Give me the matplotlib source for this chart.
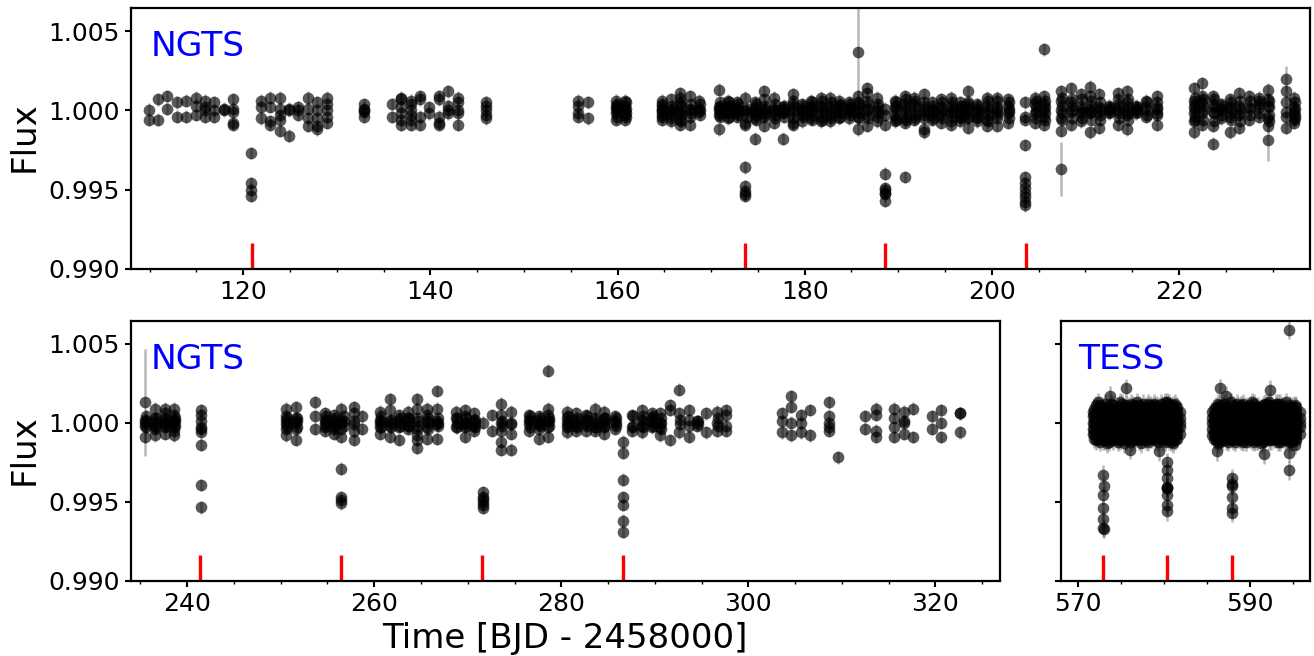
import numpy as np
import matplotlib
matplotlib.use("Agg")
import matplotlib.pyplot as plt
from matplotlib.ticker import MultipleLocator

# flux values are stored as ppt offsets from 1.0, one list per night / time column
top_times = [
    109.9, 110.9, 111.9, 112.9, 113.9, 114.9, 115.9, 116.9, 117.9, 118.9,
    120.85, 121.9, 122.9, 123.9, 124.9, 125.9, 126.9, 127.9, 128.9, 132.9,
    135.9, 136.9, 137.9, 138.9, 139.9, 140.9, 141.9, 142.9, 145.9, 155.8,
    156.8, 159.8, 160.8, 164.7, 165.7, 166.7, 167.7, 168.7, 170.8, 171.8,
    172.8, 173.65, 174.7, 175.7, 176.7, 177.7, 178.7, 179.7, 180.7, 181.7,
    182.7, 183.7, 184.7, 185.7, 186.7, 187.7, 188.6, 189.7, 190.7, 191.7,
    192.7, 193.6, 194.6, 195.6, 196.6, 197.4, 198.4, 199.5, 200.5, 201.7,
    203.5, 204.6, 205.6, 207.4, 208.5, 209.5, 210.5, 211.5, 212.5, 213.5,
    214.4, 215.4, 216.5, 217.6, 221.6, 222.5, 223.6, 224.5, 225.5, 226.4,
    227.5, 228.5, 229.5, 231.4, 232.3,
]
top_flux = [
    [0.05, -0.6], [0.7, -0.6], [0.9, 0.1], [0.5, -0.4], [0.6, -0.4],
    [0.8, 0.3, -0.3], [0.6, 0.2, 0.0, -0.4], [0.5, 0.0, -0.4], [0.0, 0.1], [0.7, 0.1, -0.1, -0.8, -0.9],
    [-2.7, -4.6, -5.0, -5.4], [0.6, 0.2, -0.5], [0.8, 0.2, -0.7, -0.9], [0.8, 0.1, -0.3, -0.6, -1.3], [0.0, 0.1, -1.6],
    [0.2, 0.0, -0.3], [0.8, 0.1, -0.5, -1.0], [0.5, 0.0, -0.5, -1.0, -1.2], [0.8, 0.4, 0.0, -0.4, -0.8], [0.4, 0.1, 0.0, -0.1, -0.4],
    [0.4, -0.4], [0.8, 0.7, 0.2, -0.2, -0.6, -0.9], [0.6, 0.4, 0.0, -0.3, -0.6, -0.9], [0.9, 0.7, -0.4, -0.9], [0.2, -0.2],
    [0.9, 0.7, -0.4, -0.8, -0.9], [1.2, 0.3, 0.0, -0.2], [0.8, 0.5, 0.0, -0.2, -0.9], [0.5, 0.3, 0.0, -0.3, -0.5], [0.6, 0.3, -0.2, -0.4],
    [0.5, -0.5], [0.6, 0.3, 0.1, -0.2, -0.6], [0.6, 0.3, 0.0, -0.3, -0.6], [0.6, 0.3, 0.0, -0.3, -0.6], [0.7, 0.0, -0.1, -0.5, -0.7],
    [1.1, 0.8, 0.4, -0.2, -0.6, -0.9], [0.9, 0.1, -0.4, -0.9], [0.6, 0.1, -0.1], [1.3, 0.2, 0.0, -0.3, -1.2], [0.6, 0.2, -0.1, -0.5],
    [0.5, 0.1, -0.2, -0.4], [0.8, 0.0, -0.8, -0.9, -3.6, -4.8, -5.1, -5.3, -5.4], [0.5, 0.1, -0.2, -0.5, -1.8], [1.2, 0.7, 0.0, -0.4, -1.0], [0.8, 0.1, -0.1, -0.8],
    [0.2, 0.0, -0.2, -1.8], [1.0, 0.6, 0.0, -0.8, -0.9], [0.4, 0.0, -0.3, -0.7], [0.6, 0.2, -0.1, -0.5], [0.8, 0.3, -0.2, -0.7],
    [0.8, 0.3, -0.3, -0.7], [0.6, 0.2, -0.1, -0.5], [0.5, 0.1, -0.1, -0.5], [0.9, 0.5, 0.0, -0.4, -1.2], [1.4, 1.1, 0.6, 0.0, -1.0],
    [0.8, 0.0, -0.7], [0.1, -0.3, -0.9, -4.0, -4.9, -5.0, -5.2, -5.3, -5.7], [0.6, 0.2, -0.3, -0.7], [0.9, 0.4, 0.0, -0.5, -0.8, -4.2], [0.8, 0.4, -0.1, -0.6],
    [1.0, 0.3, -0.3, -1.2, -1.4], [0.5, 0.1, -0.3, -0.6], [0.7, 0.2, -0.3, -0.8], [0.8, 0.3, -0.2, -0.7, -0.9], [0.5, 0.0, -0.4, -0.7],
    [1.2, 0.4, 0.0, -0.5, -1.1], [0.4, 0.0, -0.5, -0.7], [0.8, 0.3, -0.1, -0.6, -1.0], [0.8, 0.2, -0.3, -1.0], [0.7, 0.3, -0.2, -0.8],
    [0.5, -0.4, -0.6, -2.2, -4.2, -4.6, -4.9, -5.2, -5.5, -5.8, -6.0], [0.8, 0.4, -0.2, -0.8], [0.9, 0.4, 0.0, -0.4, -0.9, 3.84], [1.2, 0.6, 0.0, -0.5, -1.3], [1.4, 0.5, -0.1, -0.9],
    [1.0, 0.3, -0.2, -0.7], [1.5, 0.9, 0.0, -0.2, -1.4], [1.0, 0.2, -0.1, -1.1], [0.3, 0.0, -0.2], [1.1, 0.7, 0.0, -0.9],
    [1.2, 0.5, 0.0, -0.3, -1.2], [0.3, 0.0, -0.2], [0.6, 0.2, -0.4], [0.9, 0.1, -0.2, -0.9], [1.4, 0.6, 0.2, -0.2, -0.7, -1.4],
    [1.7, 0.9, 0.5, -0.2, -0.9], [0.9, 0.4, -0.1, -1.0, -2.1], [0.4, 0.0, -0.5], [0.7, 0.2, -0.4, -1.4], [1.1, 0.3, -0.3, -1.1],
    [0.9, 0.2, -0.6], [0.8, 0.4, -0.4], [1.3, 0.7, 0.3, -0.5, -1.0], [1.2, 0.5, -0.1, -0.4, -1.1], [0.8, 0.2, -0.1, -0.6, -0.8],
]
# second exposures of the busy nights, these make the band go solid
top_core_times = [
    159.9, 160.9, 164.8, 165.8, 166.8, 167.8, 168.8, 170.9, 171.9, 172.9,
    173.8, 174.8, 175.8, 176.8, 177.8, 178.8, 179.8, 180.8, 181.8, 182.8,
    183.8, 184.8, 185.8, 186.8, 187.8, 189.8, 190.8, 191.8, 192.8, 193.7,
    194.7, 195.7, 196.7, 197.5, 198.5, 199.6, 200.6, 201.8, 204.7, 205.7,
    207.5, 208.6, 209.6, 210.6, 211.6, 212.6, 213.6, 214.5, 215.5, 216.6,
    217.7, 221.7, 222.6, 223.7, 224.6, 225.6, 226.5, 227.6, 228.6, 229.6,
    232.4,
]
top_core_flux = [
    [0.4, 0.2, -0.1, -0.4], [0.5, 0.1, -0.2, -0.4], [0.4, 0.1, -0.1, -0.4], [0.3, 0.1, -0.3], [0.5, 0.2, -0.1, -0.3, -0.7],
    [0.4, 0.0, -0.2], [0.4, 0.0, -0.3], [0.5, 0.3, 0.0, -0.2, -0.4], [0.5, 0.3, 0.1, -0.2, -0.4], [0.4, 0.2, -0.1, -0.3],
    [0.1, -0.1, -0.4], [0.4, 0.2, -0.1, -0.3, -0.6], [0.3, 0.1, -0.2, -0.3], [0.4, 0.0, -0.3, -0.5], [0.3, 0.1, -0.1, -0.4],
    [0.4, 0.2, -0.2, -0.5], [0.3, 0.1, -0.1, -0.4], [0.5, 0.3, 0.0, -0.3, -0.6], [0.6, 0.2, 0.0, -0.4, -0.6], [0.5, 0.1, -0.1, -0.5],
    [0.4, 0.3, -0.2, -0.4], [0.4, 0.2, 0.0, -0.3], [0.4, 0.2, -0.2, -0.5], [0.4, 0.1, -0.3, -0.5], [0.4, 0.2, -0.2, -0.4],
    [0.5, 0.3, 0.0, -0.5, -0.6], [0.7, 0.2, -0.2, -0.6], [0.6, 0.2, -0.3, -0.5], [0.5, 0.1, -0.1, -0.5], [0.3, 0.0, -0.1, -0.5],
    [0.5, 0.1, -0.1, -0.5], [0.5, 0.1, -0.1, -0.4], [0.3, 0.2, -0.2, -0.5], [0.5, 0.2, -0.2, -0.4], [0.3, 0.1, -0.2, -0.4],
    [0.6, 0.1, -0.3, -0.7], [0.6, 0.1, -0.1, -0.5], [0.5, 0.1, -0.1, -0.5], [0.6, 0.2, -0.1, -0.5], [0.6, 0.2, -0.2, -0.6],
    [0.8, 0.3, -0.2, -0.6], [0.7, 0.3, 0.0, -0.5], [0.7, 0.1, -0.1, -0.5], [0.6, 0.3, -0.1, -0.6], [0.5, 0.1, -0.3, -0.6],
    [0.2, 0.1, -0.1], [0.4, 0.2, -0.2, -0.5], [0.7, 0.2, -0.2, -0.6], [0.2, 0.1, -0.1], [0.5, 0.0, -0.3],
    [0.5, 0.2, -0.3], [0.8, 0.4, 0.0, -0.4, -0.6], [0.7, 0.3, 0.0, -0.6], [0.7, 0.2, -0.2, -0.7], [0.3, 0.1, -0.3],
    [0.5, 0.1, -0.2, -0.6], [0.6, 0.1, -0.2, -0.7], [0.6, 0.1, -0.3], [0.6, 0.2, -0.2], [0.6, 0.2, -0.3, -0.7],
    [0.5, 0.1, -0.3, -0.5],
]
# points with the long error bars
top_out_t = [185.7, 207.4, 229.5, 231.4]
top_out_f = [3.67, -3.7, -1.9, 2.0]
top_out_e = [2.9, 1.7, 1.3, 0.8]

low_times = [
    235.5, 236.6, 237.6, 238.6, 241.5, 250.6, 251.6, 253.7, 254.7, 255.7,
    256.5, 257.8, 258.7, 260.6, 261.7, 262.7, 263.6, 264.6, 265.6, 266.7,
    268.7, 269.7, 270.7, 271.6, 272.6, 273.6, 274.6, 276.6, 277.6, 278.6,
    280.6, 281.6, 282.6, 283.6, 284.6, 285.7, 286.6, 287.6, 288.6, 289.7,
    290.6, 291.6, 292.6, 293.6, 294.5, 295.5, 296.6, 297.6, 303.6, 304.6,
    305.6, 306.6, 308.6, 309.6, 312.5, 313.6, 315.6, 316.6, 317.6, 319.6,
    320.6, 322.6,
]
low_flux = [
    [0.2, 0.0, -0.2, -0.9], [0.9, 0.3, 0.0, -0.2, -0.4, -0.8], [0.9, 0.6, 0.3, 0.0, -0.3, -0.7], [0.9, 0.5, 0.2, 0.0, -0.3, -0.5, -0.8],
    [0.8, 0.5, 0.1, -0.3, -0.4, -0.6, -1.4, -3.95, -5.35], [0.9, 0.4, 0.2, -0.1, -0.4, -0.8], [1.0, 0.3, 0.0, -0.4, -1.1], [1.3, 0.4, -0.4],
    [0.6, 0.2, 0.0, -0.3, -0.5], [0.5, 0.2, -0.1, -0.4, -0.7], [0.9, 0.2, 0.0, -0.4, -0.9, -2.9, -4.7, -4.9, -5.1], [1.0, 0.6, 0.1, -0.1, -0.5, -1.1],
    [0.4, -0.4], [0.7, 0.2, 0.0, -0.3, -0.7], [1.5, 0.8, 0.1, -0.2, -0.9], [0.5, 0.2, -0.3, -1.1], [0.7, 0.3, -0.2, -0.4],
    [1.5, 0.9, 0.3, -0.4, -0.8, -1.1, -1.6], [0.9, 0.5, 0.1, -0.3, -1.0], [2.0, 0.9, 0.1, -0.1, -1.0], [0.7, 0.3, -0.3], [0.8, 0.4, 0.0, -0.3, -0.9],
    [0.6, 0.2, -0.2, -0.5], [0.0, -4.4, -4.7, -4.8, -5.0, -5.2, -5.4], [0.5, -0.5], [1.2, 0.5, 0.0, -0.5, -1.2, -1.7], [0.7, 0.0, -0.1, -0.7, -1.7],
    [0.5, 0.2, -0.1, -0.5], [0.4, 0.1, -0.1, -0.4, -1.0], [3.3, 0.9, 0.5, 0.1, -0.3, -0.9], [0.7, 0.3, 0.0, -0.3, -0.6], [0.6, 0.2, -0.2, -0.5],
    [0.5, 0.2, -0.1, -0.5], [0.9, 0.3, -0.3, -0.5], [0.7, 0.3, 0.0, -0.3, -0.7], [0.4, 0.1, -0.4], [-1.2, -1.9, -3.6, -4.7, -5.2, -6.2, -6.9],
    [0.5, -0.3, -0.5], [0.8, 0.2, -0.2, -0.6], [0.6, 0.3, 0.1, -0.3], [0.6, 0.0, -0.3, -0.8], [1.1, 0.8, -1.1], [2.1, 0.6, -0.6],
    [0.8, 0.2, -0.2, -0.9], [0.1, -0.2], [0.6, -0.6], [0.7, 0.0, -0.5], [0.8, 0.5, -0.2, -0.5], [0.6, 0.1, -0.6], [1.7, 1.0, 0.0, -0.8],
    [0.5, 0.0, -0.6], [0.8, -0.8], [1.3, 0.4, 0.0, -0.3, -0.5], [-2.2], [0.4, -0.4], [0.9, 0.5, -0.5, -0.9], [0.9, 0.3, -0.3, -0.9],
    [0.7, 0.1, 0.0, -0.7], [0.9, -0.9], [0.4, -0.4], [0.8, 0.0, -0.9], [0.6, 0.6, -0.6],
]
low_core_times = [
    235.6, 236.7, 237.7, 238.7, 250.7, 251.7, 254.8, 255.8, 256.8, 260.7,
    261.8, 262.8, 263.7, 264.7, 265.7, 266.8, 268.8, 269.8, 270.8, 273.7,
    276.7, 277.7, 278.7, 280.7, 281.7, 282.7, 283.7, 284.7, 285.8, 287.7,
    288.7, 289.8, 290.7, 292.7, 294.6, 296.7,
]
low_core_flux = [
    [0.4, 0.1, -0.3], [0.3, 0.1, -0.3], [0.2, 0.0, -0.2], [0.3, 0.1, -0.2], [0.3, 0.0, -0.3], [0.3, 0.1, -0.3],
    [0.4, 0.1, -0.2], [0.3, 0.0, -0.3], [0.4, 0.1, -0.2], [0.4, 0.1, -0.3], [0.2, 0.0, -0.3], [0.3, 0.0, -0.2],
    [0.3, 0.1, -0.2], [0.1, -0.2], [0.3, 0.0, -0.4], [0.3, 0.0, -0.2], [0.3, 0.0, -0.3], [0.3, 0.0, -0.2],
    [0.2, 0.0, -0.3], [0.1, -0.2], [0.4, 0.1, -0.3], [0.3, 0.0, -0.2], [0.3, 0.1, -0.2], [0.4, 0.1, -0.2],
    [0.3, 0.0, -0.3], [0.4, 0.1, -0.2], [0.2, 0.0, -0.3], [0.3, 0.1, -0.2], [0.3, 0.0, -0.2], [0.4, -0.2],
    [0.4, 0.1, -0.3], [0.4, 0.0, -0.2], [0.3, 0.0, -0.4], [0.2, -0.1], [0.1, -0.1], [0.3, -0.2],
]
low_out_t = [235.5]
low_out_f = [1.3]
low_out_e = [3.4]

tess_times = [
    571.7, 572.1, 572.6, 573.1, 573.6, 574.1, 574.6, 575.1, 575.6, 576.1, 576.6,
    577.1, 577.6, 578.1, 578.6, 579.1, 579.6, 580.1, 580.6, 581.1, 581.5, 581.9,
    585.6, 586.0, 586.5, 587.0, 587.5, 588.0, 588.5, 589.0, 589.5, 590.0, 590.5,
    591.0, 591.5, 592.0, 592.5, 593.0, 593.5, 594.0, 594.5, 595.0, 595.4, 595.8,
]
tess_flux = [
    [0.7, 0.4, 0.0, -0.4, -0.7],
    [1.1, 0.7, 0.4, 0.1, -0.2, -0.5, -0.8, -1.1],
    [1.1, 0.6, 0.3, 0.0, -0.3, -0.6, -0.9, -1.2],
    [1.2, 0.8, 0.4, 0.1, -0.3, -0.5, -0.8, -1.1],
    [1.0, 0.7, 0.3, 0.0, -0.2, -0.6, -0.9, -1.2],
    [1.1, 0.6, 0.4, 0.1, -0.3, -0.6, -0.8, -1.1],
    [1.0, 0.7, 0.3, 0.0, -0.3, -0.7, -1.0, -1.2],
    [1.2, 0.6, 0.3, -0.1, -0.4, -0.7, -1.0],
    [1.1, 0.7, 0.4, 0.1, -0.2, -0.5, -0.9, -1.1],
    [1.2, 0.8, 0.4, 0.0, -0.3, -0.6, -0.9, -1.2],
    [1.0, 0.6, 0.3, 0.0, -0.4, -0.7, -1.0],
    [1.1, 0.7, 0.4, 0.1, -0.2, -0.6, -0.9, -1.1],
    [1.2, 0.8, 0.3, 0.0, -0.3, -0.5, -0.8, -1.0],
    [1.2, 0.7, 0.4, 0.1, -0.2, -0.6, -0.9, -1.2],
    [1.0, 0.6, 0.3, -0.1, -0.4, -0.7, -1.0],
    [1.1, 0.8, 0.4, 0.1, -0.2, -0.5, -0.8, -1.1],
    [1.2, 0.6, 0.2, 0.0, -0.3, -0.7, -1.0],
    [1.3, 0.7, 0.3, 0.0, -0.4, -0.6, -0.9, -1.2],
    [1.2, 0.8, 0.4, 0.1, -0.2, -0.5, -0.8, -1.1],
    [1.1, 0.6, 0.3, 0.0, -0.3, -0.6, -0.9, -1.3],
    [1.0, 0.7, 0.3, 0.0, -0.4, -0.7, -1.0],
    [0.7, 0.3, 0.0, -0.3, -0.7],
    [0.7, 0.3, 0.0, -0.4, -0.8],
    [1.0, 0.7, 0.4, 0.1, -0.2, -0.5, -0.8, -1.1],
    [1.1, 0.6, 0.3, 0.0, -0.3, -0.6, -0.9, -1.2],
    [1.2, 1.0, 0.7, 0.4, 0.1, -0.2, -0.5, -0.9],
    [1.0, 0.8, 0.3, 0.0, -0.4, -0.6, -1.0, -1.2],
    [1.1, 0.7, 0.3, -0.1, -0.3, -0.7, -0.9, -1.1],
    [1.2, 0.6, 0.4, 0.1, -0.2, -0.5, -0.8, -1.0],
    [1.1, 0.8, 0.3, 0.0, -0.3, -0.6, -0.9, -1.1],
    [1.0, 0.7, 0.4, 0.1, -0.2, -0.5, -0.8, -1.2],
    [1.1, 0.6, 0.3, -0.1, -0.4, -0.7, -1.0],
    [1.2, 0.7, 0.4, 0.0, -0.3, -0.6, -0.9, -1.2],
    [1.0, 0.8, 0.3, 0.1, -0.2, -0.5, -0.8, -1.1],
    [1.1, 0.6, 0.4, 0.0, -0.3, -0.7, -1.0, -1.2],
    [1.2, 1.0, 0.7, 0.3, 0.0, -0.4, -0.6, -0.9],
    [1.1, 0.8, 0.4, 0.1, -0.2, -0.5, -0.8, -1.1],
    [1.2, 1.0, 0.6, 0.3, -0.1, -0.3, -0.7, -1.0],
    [1.2, 0.7, 0.4, 0.0, -0.4, -0.6, -0.9, -1.2],
    [1.0, 0.6, 0.3, 0.1, -0.2, -0.5, -0.8, -1.0],
    [1.1, 0.8, 0.4, 0.0, -0.3, -0.7, -1.0, -1.2],
    [1.0, 0.7, 0.3, 0.0, -0.3, -0.6, -0.9, -1.1],
    [1.0, 0.6, 0.3, 0.0, -0.4, -0.7, -1.1],
    [0.7, 0.3, 0.0, -0.3, -0.7],
]
# in-between cadences, these close the holes in the TESS block
tess_fill_times = [
    571.9, 572.35, 572.85, 573.35, 573.85, 574.35, 574.85, 575.35, 575.85, 576.35,
    576.85, 577.35, 577.85, 578.35, 578.85, 579.35, 579.85, 580.35, 580.85, 581.3,
    585.8, 586.25, 586.75, 587.25, 587.75, 588.25, 588.75, 589.25, 589.75, 590.25,
    590.75, 591.25, 591.75, 592.25, 592.75, 593.25, 593.75, 594.25, 594.75, 595.2,
]
tess_fill_flux = [
    [0.9, 0.5, 0.2, -0.1, -0.4, -0.7, -1.0], [1.3, 0.9, 0.5, 0.2, -0.1, -0.4, -0.7, -1.0], [1.0, 0.5, 0.2, -0.1, -0.5, -0.8, -1.1],
    [0.9, 0.6, 0.2, -0.1, -0.4, -0.7, -1.3], [1.2, 0.9, 0.5, 0.2, -0.1, -0.4, -0.7, -1.0], [0.8, 0.5, 0.2, -0.1, -0.4, -0.7, -1.0],
    [1.3, 0.9, 0.5, 0.1, -0.2, -0.5, -0.8, -1.1], [0.9, 0.5, 0.2, -0.2, -0.5, -0.8, -1.3], [1.0, 0.6, 0.2, -0.1, -0.4, -0.7, -1.0],
    [1.1, 0.6, 0.2, -0.1, -0.5, -0.8, -1.1], [1.3, 0.9, 0.5, 0.2, -0.1, -0.4, -0.8], [0.9, 0.5, 0.2, -0.1, -0.4, -0.7, -1.0, -1.3],
    [1.0, 0.6, 0.2, -0.2, -0.4, -0.7, -1.1], [1.1, 0.5, 0.2, -0.1, -0.5, -0.8, -1.0], [1.2, 0.9, 0.5, 0.2, -0.1, -0.3, -0.6, -0.9],
    [1.0, 0.5, 0.2, -0.1, -0.4, -0.8, -1.2], [0.9, 0.5, 0.1, -0.2, -0.5, -0.8, -1.1], [1.3, 1.0, 0.6, 0.2, -0.1, -0.3, -0.7, -1.0],
    [1.0, 0.5, 0.2, -0.1, -0.5, -0.8, -1.2], [1.2, 0.9, 0.5, 0.2, -0.2, -0.5, -0.8, -1.1],
    [0.9, 0.5, 0.2, -0.1, -0.5, -0.7, -1.0], [1.2, 0.9, 0.5, 0.2, -0.1, -0.4, -0.7, -1.3], [1.0, 0.5, 0.2, -0.1, -0.4, -0.8, -1.1],
    [0.9, 0.5, 0.2, -0.1, -0.3, -0.7, -1.1], [1.3, 0.9, 0.5, 0.2, -0.2, -0.5, -0.8, -1.0], [0.9, 0.5, 0.2, -0.2, -0.5, -0.8, -1.2],
    [1.0, 0.5, 0.2, -0.1, -0.4, -0.7, -1.0], [1.2, 0.9, 0.5, 0.2, -0.1, -0.4, -0.7, -1.2], [0.9, 0.5, 0.1, -0.1, -0.4, -0.7, -1.0],
    [1.3, 0.9, 0.5, 0.2, -0.2, -0.5, -0.8, -1.1], [1.0, 0.6, 0.2, -0.1, -0.4, -0.7, -1.1], [0.9, 0.5, 0.2, -0.2, -0.5, -0.8, -1.3],
    [1.2, 0.9, 0.5, 0.2, -0.1, -0.4, -0.8, -1.0], [1.3, 0.5, 0.2, -0.1, -0.5, -0.8, -1.1], [0.9, 0.6, 0.2, -0.1, -0.4, -0.7, -1.0],
    [1.2, 0.9, 0.5, 0.2, -0.1, -0.5, -0.8, -1.2], [1.0, 0.5, 0.2, -0.1, -0.3, -0.7, -1.0], [1.3, 0.9, 0.6, 0.2, -0.2, -0.5, -0.8, -1.1],
    [1.0, 0.5, 0.2, -0.1, -0.4, -0.8, -1.2], [1.1, 0.8, 0.5, 0.2, -0.1, -0.5, -0.8, -1.0],
]
# dips and stragglers around the TESS block
tess_dip_t = [572.9, 572.95, 572.85, 572.9, 572.9, 572.9, 573.0,
              580.3, 580.3, 580.3, 580.3, 580.4, 580.3, 580.3, 580.3,
              587.9, 587.9, 587.9, 587.9, 587.9, 587.9]
tess_dip_f = [-3.3, -4.0, -4.6, -5.4, -6.1, -6.65, -6.7,
              -2.5, -3.0, -3.5, -4.05, -4.1, -4.15, -4.6, -5.2,
              -3.5, -3.9, -4.0, -4.7, -5.4, -5.7]
tess_extra_t = [575.6, 586.5, 592.3, 594.5, 594.5, 594.5, 573.7, 586.2, 587.2, 591.7, 576.0, 579.4, 595.2, 580.3]
tess_extra_f = [2.2, 2.2, 2.1, 5.9, -3.0, -1.9, 1.7, -1.8, 1.7, -2.0, -1.7, -1.8, -1.4, -5.6]

top_transits = [120.9, 173.65, 188.6, 203.6]
low_transits = [241.4, 256.4, 271.5, 286.6]
tess_transits = [572.9, 580.4, 587.9]
y_ticks = [0.99, 0.995, 1.0, 1.005]
y_tick_labels = ["0.990", "0.995", "1.000", "1.005"]


def add_axes(fig, left, right, top, bottom):
    w, h = fig.get_size_inches() * fig.dpi
    return fig.add_axes([left / w, 1 - bottom / h, (right - left) / w, (bottom - top) / h])


def draw(ax, times, flux, err, transits, out_t=(), out_f=(), out_e=()):
    t = np.concatenate([[a] * len(b) for a, b in zip(times, flux)] + [list(out_t)])
    f = np.concatenate([np.array(b, float) for b in flux] + [list(out_f)])
    e = np.concatenate([np.full(len(b), err) for b in flux] + [list(out_e)])
    y = 1 + f / 1000
    ax.errorbar(t, y, yerr=e / 1000, fmt="none", ecolor="k", elinewidth=1.8, alpha=0.28)
    ax.plot(t, y, "o", color="k", alpha=0.65, ms=8.4, mew=0)
    ax.vlines(transits, 0.99, 0.9916, color="r", lw=2.4)
    ax.set_ylim(0.99, 1.00646)
    ax.set_yticks(y_ticks)
    ax.xaxis.set_major_locator(MultipleLocator(20))
    ax.xaxis.set_minor_locator(MultipleLocator(5))
    ax.tick_params(which="major", labelsize=18, length=4.5, width=1.5)
    ax.tick_params(which="minor", length=2.5, width=1)
    for s in ax.spines.values():
        s.set_linewidth(1.6)


fig = plt.figure(figsize=(13.14, 6.56), dpi=100)

ax1 = add_axes(fig, 131, 1310, 8, 268.7)
draw(ax1, top_times + top_core_times, top_flux + top_core_flux, 0.4, top_transits,
     top_out_t, top_out_f, top_out_e)
ax1.set_xlim(108, 234)
ax1.set_yticklabels(y_tick_labels)
ax1.text(0.0165, 0.816, "NGTS", color="b", fontsize=24.8, transform=ax1.transAxes)

ax2 = add_axes(fig, 131, 1000, 320.7, 580.7)
draw(ax2, low_times + low_core_times, low_flux + low_core_flux, 0.4, low_transits,
     low_out_t, low_out_f, low_out_e)
ax2.set_xlim(234, 326.9)
ax2.set_yticklabels(y_tick_labels)
ax2.text(0.0225, 0.816, "NGTS", color="b", fontsize=24.8, transform=ax2.transAxes)

ax3 = add_axes(fig, 1061, 1310, 320.7, 580.7)
draw(ax3, tess_times + tess_fill_times, tess_flux + tess_fill_flux, 0.6, tess_transits,
     tess_dip_t + tess_extra_t, tess_dip_f + tess_extra_f, [0.6] * (len(tess_dip_t) + len(tess_extra_t)))
ax3.set_xlim(568, 597)
ax3.set_xticks([570, 590])
ax3.set_xticks([575, 580, 585, 595], minor=True)
ax3.set_yticklabels([])
ax3.text(0.068, 0.816, "TESS", color="b", fontsize=24.8, transform=ax3.transAxes)

fig.text(24 / 1314, 1 - 137 / 656, "Flux", fontsize=24.5, rotation=90, ha="center", va="center")
fig.text(24 / 1314, 1 - 450 / 656, "Flux", fontsize=24.5, rotation=90, ha="center", va="center")
fig.text(565 / 1314, 1 - 648 / 656, "Time [BJD - 2458000]", fontsize=24.5, ha="center", va="baseline")

fig.savefig("out.png", dpi=100)
